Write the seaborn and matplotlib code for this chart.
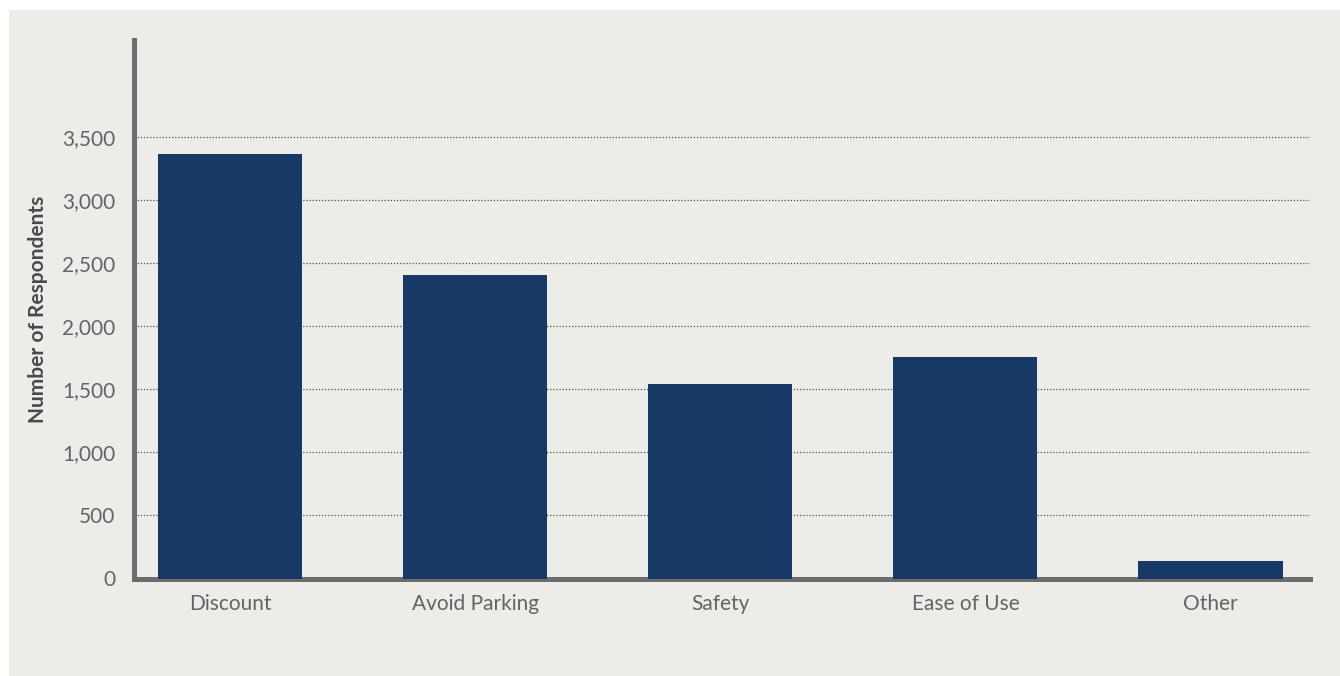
import matplotlib
matplotlib.use("Agg")
import matplotlib.pyplot as plt
from matplotlib.patches import Rectangle
from matplotlib.ticker import FuncFormatter
import seaborn as sns

# Survey responses: reasons given
categories = ["Discount", "Avoid Parking", "Safety", "Ease of Use", "Other"]
respondents = [3365, 2405, 1545, 1755, 140]
y_ticks = [0, 500, 1000, 1500, 2000, 2500, 3000, 3500]

PANEL = "#EDECE8"
BAR = "#163A65"
SPINE = "#6B6D6D"
TEXT = "#646464"

sns.set_theme(style="white")
plt.rcParams["font.family"] = ["Lato", "DejaVu Sans"]

W, H = 1340, 676
fig = plt.figure(figsize=(W / 100, H / 100), dpi=100, facecolor="white")
fig.patches.append(Rectangle((9 / W, 0), 1, 1 - 10 / H, transform=fig.transFigure,
                             facecolor=PANEL, edgecolor="none", zorder=-10))

left, right, bottom, top = 133.5, 1310, 578.5, 40
ax = fig.add_axes([left / W, (H - bottom) / H, (right - left) / W, (bottom - top) / H])
ax.set_facecolor(PANEL)

sns.barplot(x=categories, y=respondents, color=BAR, saturation=1, width=0.588,
            linewidth=0, edgecolor="none", ax=ax, zorder=3)

ax.set_xlim(-0.394, 4.406)
ax.set_ylim(0, 4270)
ax.set_yticks(y_ticks)
ax.yaxis.set_major_formatter(FuncFormatter(lambda v, _: f"{int(v):,}"))

ax.set_axisbelow(True)
ax.yaxis.grid(True, linestyle=(0, (1, 1.5)), color="#505050", linewidth=0.9)
ax.xaxis.grid(False)

for side in ("top", "right"):
    ax.spines[side].set_visible(False)
for side in ("left", "bottom"):
    ax.spines[side].set_color(SPINE)
    ax.spines[side].set_linewidth(3.6)
    ax.spines[side].set_capstyle("projecting")
    ax.spines[side].set_zorder(2)

ax.tick_params(axis="y", length=0, pad=13, labelsize=15, labelcolor=TEXT)
ax.tick_params(axis="x", length=0, pad=11, labelsize=15, labelcolor=TEXT)

ax.set_xlabel("")
ax.set_ylabel("Number of Respondents", fontsize=15, fontweight="bold",
              color="#4A4A4A", labelpad=10)

fig.savefig("out.png", dpi=100, facecolor="white")
